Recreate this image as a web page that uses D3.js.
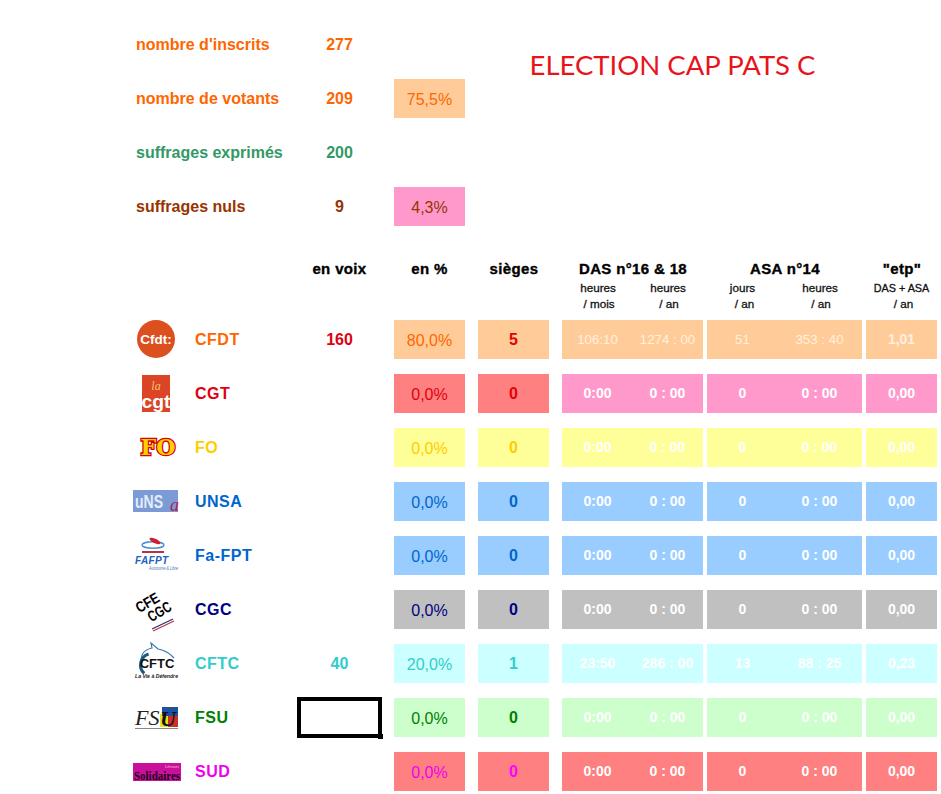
<!DOCTYPE html>
<html><head><meta charset="utf-8">
<script src="https://cdn.jsdelivr.net/npm/d3@7"></script>
<style>html,body{margin:0;padding:0;background:#fff;overflow:hidden}svg{display:block}text{font-family:"Liberation Sans",Arial,sans-serif}</style>
</head><body><div id="c"></div>
<script>
// summary block
const summaryLabels = ["nombre d'inscrits","nombre de votants","suffrages exprimés","suffrages nuls"];
const summaryValues = [277,209,200,9];
const summaryPct = ["", "75,5%", "", "4,3%"];
const summaryColors = ["#FF6600","#FF6600","#339966","#993300"];
const summaryFills = [null,"#FFCC99",null,"#FF99CC"];
const title = "ELECTION CAP PATS C";
// table
const unions = ["CFDT","CGT","FO","UNSA","Fa-FPT","CGC","CFTC","FSU","SUD"];
const votes = [160,"","","","","",40,"",""];
const pct = ["80,0%","0,0%","0,0%","0,0%","0,0%","0,0%","20,0%","0,0%","0,0%"];
const seats = [5,0,0,0,0,0,1,0,0];
const dasMonth = ["106:10","0:00","0:00","0:00","0:00","0:00","23:50","0:00","0:00"];
const dasYear = ["1274 : 00","0 : 00","0 : 00","0 : 00","0 : 00","0 : 00","286 : 00","0 : 00","0 : 00"];
const asaDays = [51,0,0,0,0,0,13,0,0];
const asaHours = ["353 : 40","0 : 00","0 : 00","0 : 00","0 : 00","0 : 00","88 : 25","0 : 00","0 : 00"];
const etp = ["1,01","0,00","0,00","0,00","0,00","0,00","0,23","0,00","0,00"];
const textColors = ["#FF6600","#E00010","#FFCC00","#0066CC","#0066CC","#000080","#33CCCC","#008000","#EE00EE"];
const voteColors = ["#E00010","#E00010","#FFCC00","#0066CC","#0066CC","#000080","#33CCCC","#008000","#EE00EE"];
const seatColors = ["#E80000","#E80000","#FFCC00","#0066CC","#0066CC","#000080","#33CCCC","#008000","#FF00FF"];
const pctFills = ["#FFCC99","#FF8080","#FFFF99","#99CCFF","#99CCFF","#C0C0C0","#CCFFFF","#CCFFCC","#FF8080"];
const dasFills = ["#FFCC99","#FF99CC","#FFFF99","#99CCFF","#99CCFF","#C0C0C0","#CCFFFF","#CCFFCC","#FF8080"];
const headers = ["en voix","en %","sièges","DAS n°16 & 18","ASA n°14","\"etp\""];
const subHeaders1 = ["heures","heures","jours","heures","DAS + ASA"];
const subHeaders2 = ["/ mois","/ an","/ an","/ an","/ an"];

const W=941,H=794;
const svg=d3.select("#c").append("svg").attr("width",W).attr("height",H).attr("viewBox",`0 0 ${W} ${H}`);
const y=d3.scaleBand().domain(unions).range([320,791]).paddingInner(15/54).paddingOuter(0);
const yS=d3.scalePoint().domain(summaryLabels).range([44,206]);
const cx={label:136,name:195,votes:339.5,pct:429.5,seats:513.5,dm:597.5,dy:667.5,ad:742.5,ah:819.5,etp:901.5};
const bands={pct:[394,465],seats:[478,549],das:[562,703],asa:[707,862],etp:[866,937]};

function T(g,x,yy,s,size,col,opts={}){
  return g.append("text").attr("x",x).attr("y",yy).attr("dy","0.35em").attr("text-anchor",opts.anchor||"middle")
   .attr("font-size",size).attr("font-weight",opts.weight||"bold").attr("fill",col)
   .attr("letter-spacing",opts.ls||null).text(s);
}
// title
svg.append("text").attr("x",672.5).attr("y",65.5).attr("dy","0.35em").attr("text-anchor","middle")
  .attr("font-size",27.5).attr("fill","#E8141C").style("font-family","Lato,'Open Sans',sans-serif").text(title);

// summary
summaryLabels.forEach((l,i)=>{
  const yy=yS(l);
  T(svg,cx.label,yy,l,16,summaryColors[i],{anchor:"start"});
  T(svg,cx.votes,yy,summaryValues[i],16,summaryColors[i]);
  if(summaryFills[i]){
    svg.append("rect").attr("x",bands.pct[0]).attr("y",yy-19).attr("width",bands.pct[1]-bands.pct[0]).attr("height",39).attr("fill",summaryFills[i]);
    T(svg,cx.pct,yy+1,summaryPct[i],16,summaryColors[i],{weight:"normal"});
  }
});
// headers
const hy=269;
[[cx.votes,0],[cx.pct,1],[514,2],[633,3],[785,4],[902,5]].forEach(([x,i])=>{
  T(svg,x,hy,headers[i],15,"#000",{ls:"0.35px"}).attr("stroke","#000").attr("stroke-width",0.35);
});
[598,668,742.5,820,901.5].forEach((x,i)=>{
  T(svg,x,288,subHeaders1[i],i==4?10.8:11.7,"#111",{weight:"normal"}).attr("stroke","#111").attr("stroke-width",0.3);
});
[599,669,744.5,821,903.5].forEach((x,i)=>{
  T(svg,x,304,subHeaders2[i],11.7,"#111",{weight:"normal"}).attr("stroke","#111").attr("stroke-width",0.3);
});

// rows
const rows=svg.selectAll("g.row").data(unions).join("g").attr("class","row");
rows.each(function(u,i){
  const g=d3.select(this), top=y(u), h=y.bandwidth(), c=top+h/2-0.5;
  const rect=(b,f)=>g.append("rect").attr("x",b[0]).attr("y",top).attr("width",b[1]-b[0]).attr("height",h).attr("fill",f);
  rect(bands.pct,pctFills[i]);rect(bands.seats,pctFills[i]);
  rect(bands.das,dasFills[i]);rect(bands.asa,dasFills[i]);rect(bands.etp,dasFills[i]);
  T(g,cx.name,c,u,16,textColors[i],{anchor:"start",ls:"0.5px"});
  if(votes[i]!=="")T(g,cx.votes,c,votes[i],16,voteColors[i]);
  T(g,cx.pct,c+1,pct[i],16,textColors[i],{weight:"normal"});
  T(g,cx.seats,c,seats[i],16,seatColors[i]);
  const big=(i==0);
  const w=big?"normal":"bold", col=big?"#FFF0DF":"#fff", sz=big?13.3:14;
  T(g,cx.dm,c,dasMonth[i],sz,col,{weight:w});
  T(g,cx.dy,c,dasYear[i],sz,col,{weight:w});
  T(g,cx.ad,c,asaDays[i],sz,col,{weight:w});
  T(g,cx.ah,c,asaHours[i],sz,col,{weight:w});
  T(g,cx.etp,c,etp[i],14,col);
});

// logos (drawn from simple shapes)
const L=svg.append("g");
const yc=u=>y(u)+y.bandwidth()/2-0.5;
// CFDT
L.append("circle").attr("cx",156).attr("cy",yc("CFDT")).attr("r",19).attr("fill","#DC5020");
T(L,156,yc("CFDT"),"Cfdt:",13.5,"#fff");
// CGT
{const c=yc("CGT");
L.append("rect").attr("x",142).attr("y",c-18).attr("width",28).attr("height",37).attr("fill","#DC4426");
L.append("text").attr("x",156).attr("y",c-3).attr("text-anchor","middle").attr("font-size",12).attr("font-style","italic").style("font-family","'Liberation Serif',serif").attr("fill","#F5C26B").text("la");
L.append("text").attr("x",156).attr("y",c+15).attr("text-anchor","middle").attr("font-size",18).attr("font-weight","bold").attr("fill","#fff").attr("textLength",29).attr("lengthAdjust","spacingAndGlyphs").text("cgt");}
// FO
{const c=yc("FO");
L.append("text").attr("x",158).attr("y",c).attr("dy","0.35em").attr("text-anchor","middle").attr("font-size",23).attr("font-weight","bold").style("font-family","'DejaVu Serif',serif").attr("textLength",35).attr("lengthAdjust","spacingAndGlyphs").attr("fill","#FFD000").attr("stroke","#D00010").attr("stroke-width",2.6).style("paint-order","stroke").text("FO");}
// UNSA
{const c=yc("UNSA");
L.append("rect").attr("x",133).attr("y",c-11).attr("width",45).attr("height",22).attr("fill","#7C9BD6");
L.append("text").attr("x",135).attr("y",c+7).attr("font-size",18).attr("font-weight","bold").attr("fill","#E4ECF8").attr("textLength",28).attr("lengthAdjust","spacingAndGlyphs").text("uNS");
L.append("text").attr("x",170).attr("y",c+10).attr("font-size",18).attr("font-style","italic").style("font-family","'Liberation Serif',serif").attr("fill","#B02050").text("a");}
// Fa-FPT
{const c=yc("Fa-FPT");
L.append("ellipse").attr("cx",153).attr("cy",c-10).attr("rx",11).attr("ry",3.2).attr("fill","none").attr("stroke","#4A90D8").attr("stroke-width",1.4);
L.append("ellipse").attr("cx",155).attr("cy",c-14).attr("rx",6).attr("ry",2.2).attr("fill","#D02030").attr("transform",`rotate(25 155 ${c-14})`);
L.append("rect").attr("x",142).attr("y",c-4).attr("width",22).attr("height",2).attr("fill","#C03040");
L.append("text").attr("x",135).attr("y",c+9).attr("font-size",10).attr("font-weight","bold").attr("font-style","italic").attr("fill","#2060C0").attr("textLength",33).text("FAFPT");
L.append("text").attr("x",149).attr("y",c+15).attr("font-size",4.5).attr("font-style","italic").attr("fill","#4A70B0").attr("textLength",29).attr("lengthAdjust","spacingAndGlyphs").text("Autonome & Libre");}
// CGC
{const c=yc("CGC");
L.append("text").attr("x",150).attr("y",c-2).attr("text-anchor","middle").attr("font-size",15).attr("font-weight","bold").attr("fill","#000").attr("textLength",25).attr("lengthAdjust","spacingAndGlyphs").attr("transform",`rotate(-30 150 ${c-2})`).text("CFE");
L.append("text").attr("x",162).attr("y",c+7).attr("text-anchor","middle").attr("font-size",15).attr("font-weight","bold").attr("fill","#000").attr("textLength",25).attr("lengthAdjust","spacingAndGlyphs").attr("transform",`rotate(-30 162 ${c+7})`).text("CGC");
L.append("line").attr("x1",152).attr("y1",c+20).attr("x2",173).attr("y2",c+10).attr("stroke","#203080").attr("stroke-width",1.2);
L.append("line").attr("x1",153).attr("y1",c+22).attr("x2",174).attr("y2",c+12).attr("stroke","#C03040").attr("stroke-width",1.2);}
// CFTC
{const c=yc("CFTC");
L.append("path").attr("d",`M142,${c+0} Q139,${c-12} 152,${c-15} L151,${c-20} L158,${c-14} Q168,${c-12} 174,${c-5}`).attr("fill","none").attr("stroke","#3A78A8").attr("stroke-width",1.2);
L.append("path").attr("d",d3.arc()({innerRadius:10,outerRadius:13,startAngle:-2.4,endAngle:-0.3})).attr("transform",`translate(152,${c+2})`).attr("fill","#205880");
L.append("text").attr("x",157).attr("y",c+5).attr("text-anchor","middle").attr("font-size",13).attr("font-weight","bold").attr("fill","#111").text("CFTC");
L.append("text").attr("x",156.5).attr("y",c+15).attr("text-anchor","middle").attr("font-size",5.6).attr("font-style","italic").attr("font-weight","bold").attr("fill","#222").attr("textLength",43).attr("lengthAdjust","spacingAndGlyphs").text("La Vie à Défendre");}
// FSU
{const c=yc("FSU");
[["#E8E020",160,c-3,12,13],["#2050A0",162,c-10,16,9],["#C83028",168,c-1,10,11]].forEach(d=>L.append("rect").attr("x",d[1]).attr("y",d[2]).attr("width",d[3]).attr("height",d[4]).attr("fill",d[0]));
L.append("text").attr("x",135).attr("y",c+8).attr("font-size",22).attr("font-style","italic").style("font-family","'Liberation Serif',serif").attr("fill","#222").text("FS");
L.append("text").attr("x",160).attr("y",c+9).attr("font-size",22).attr("font-style","italic").attr("font-weight","bold").style("font-family","'Liberation Serif',serif").attr("fill","#111").text("U");
L.append("rect").attr("x",135).attr("y",c+11).attr("width",43).attr("height",1).attr("fill","#888");}
// SUD
{const c=yc("SUD");
L.append("rect").attr("x",133).attr("y",c-8).attr("width",48).attr("height",18).attr("fill","#C8109A");
L.append("text").attr("x",157).attr("y",c+9).attr("text-anchor","middle").attr("font-size",12).attr("font-weight","bold").style("font-family","'Liberation Serif',serif").attr("fill","#200018").attr("textLength",46).attr("lengthAdjust","spacingAndGlyphs").text("Solidaires");
L.append("text").attr("x",165).attr("y",c-3.5).attr("font-size",3.5).attr("fill","#FFB0D8").attr("textLength",14).attr("lengthAdjust","spacingAndGlyphs").text("Union");}

// selected cell
svg.append("rect").attr("x",299).attr("y",699).attr("width",81).attr("height",37).attr("fill","#fff").attr("stroke","#000").attr("stroke-width",4);
svg.append("rect").attr("x",378).attr("y",734).attr("width",5).attr("height",5).attr("fill","#000");
</script></body></html>
